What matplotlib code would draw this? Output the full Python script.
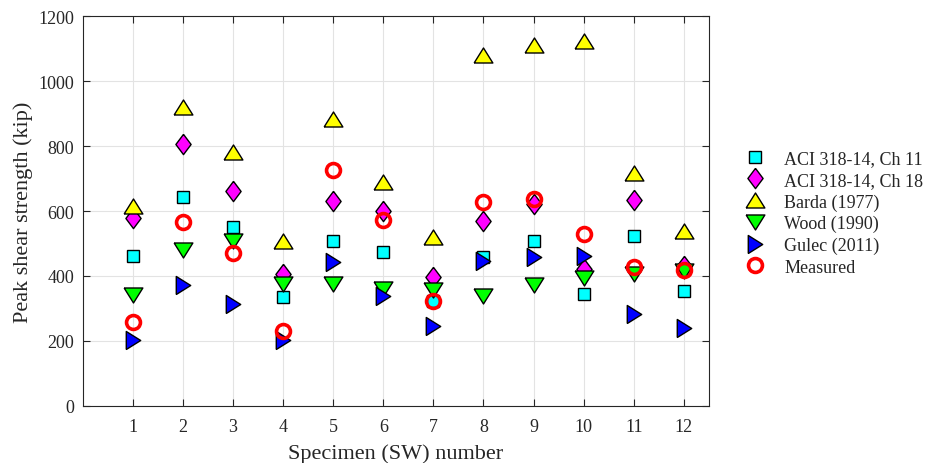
import numpy as np
import matplotlib
matplotlib.use('Agg')
import matplotlib.pyplot as plt

# Peak shear strength (kip) per specimen
specimen = [1, 2, 3, 4, 5, 6, 7, 8, 9, 10, 11, 12]
aci_ch11 = [462, 643, 551, 335, 507, 475, 324, 457, 507, 344, 524, 353]
aci_ch18 = [578, 806, 662, 406, 630, 601, 396, 568, 622, 421, 635, 431]
barda = [615, 920, 781, 509, 883, 689, 519, 1082, 1113, 1125, 716, 539]
wood = [342, 481, 509, 375, 375, 360, 357, 339, 372, 392, 406, 416]
gulec = [202, 372, 313, 202, 442, 339, 247, 445, 459, 462, 283, 238]
measured = [257, 565, 471, 231, 726, 572, 322, 627, 637, 528, 428, 419]

plt.rcParams['font.family'] = ['Liberation Serif', 'DejaVu Serif']
txt = '#262626'

# MATLAB-style marker shapes
tri_up = [(-1, -0.8), (1, -0.8), (0, 0.8), (-1, -0.8)]
tri_down = [(-1, 0.8), (1, 0.8), (0, -0.8), (-1, 0.8)]
tri_right = [(-0.8, -1), (-0.8, 1), (0.8, 0), (-0.8, -1)]
diamond = [(0, 1), (0.75, 0), (0, -1), (-0.75, 0), (0, 1)]

fig = plt.figure(figsize=(9.28, 4.64), dpi=100)
ax = fig.add_axes([0.089, 0.1235, 0.675, 0.8392])

ax.plot(specimen, aci_ch11, ls='none', marker='s', ms=8.2, mfc='cyan', mec='k', mew=1.0,
        label='ACI 318-14, Ch 11')
ax.plot(specimen, aci_ch18, ls='none', marker=diamond, ms=14.6, mfc='magenta', mec='k', mew=1.0,
        label='ACI 318-14, Ch 18')
ax.plot(specimen, barda, ls='none', marker=tri_up, ms=13.5, mfc='yellow', mec='k', mew=1.0,
        label='Barda (1977)')
ax.plot(specimen, wood, ls='none', marker=tri_down, ms=13.5, mfc='#00ff00', mec='k', mew=1.0,
        label='Wood (1990)')
ax.plot(specimen, gulec, ls='none', marker=tri_right, ms=13.0, mfc='blue', mec='k', mew=1.0,
        label='Gulec (2011)')
ax.plot(specimen, measured, ls='none', marker='o', ms=10, mfc='none', mec='red', mew=2.6,
        label='Measured')

ax.set_xlim(0, 12.5)
ax.set_ylim(0, 1200)
ax.set_xticks(specimen)
ax.set_yticks(np.arange(0, 1201, 200))
ax.grid(True, color='#e3e3e3', lw=0.8)
ax.set_axisbelow(True)
ax.tick_params(direction='in', top=True, right=True, labelsize=13, colors=txt, length=5)
ax.tick_params(axis='x', pad=9)
ax.tick_params(axis='y', pad=6)
for s in ax.spines.values():
    s.set_color(txt)
    s.set_linewidth(0.8)

ax.set_xlabel('Specimen (SW) number', fontsize=16, color=txt, labelpad=6)
ax.set_ylabel('Peak shear strength (kip)', fontsize=16, color=txt, labelpad=4)

fig.legend(loc='upper left', bbox_to_anchor=(0.777, 0.709), frameon=False, fontsize=13,
           handletextpad=0.6, labelspacing=0.25, labelcolor=txt)

fig.savefig('out.png', dpi=100)
